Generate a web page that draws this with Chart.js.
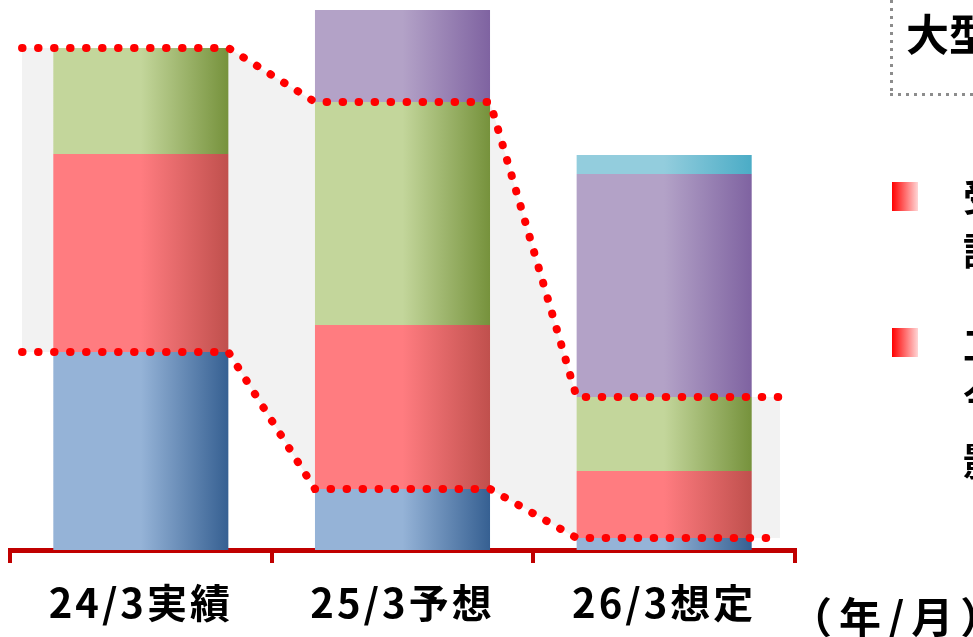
<!DOCTYPE html>
<html>
<head>
<meta charset="utf-8">
<script src="https://cdn.jsdelivr.net/npm/chart.js@4/dist/chart.umd.min.js"></script>
<style>
  body { margin: 0; background: #fff; overflow: hidden; }
  #wrap { position: relative; width: 973px; height: 637px; overflow: hidden; }
  #chart { position: absolute; left: 0; top: 0; }
  .txt { position: absolute; font-family: "Noto Sans CJK JP", sans-serif; font-weight: 700; color: #000; white-space: nowrap; line-height: 1; }
  .bullet { position: absolute; left: 892px; width: 26px; height: 29px;
            background: linear-gradient(to right, #ff0000, #ff8080 60%, #ffd6d6); filter: blur(0.5px); }
</style>
</head>
<body>
<div id="wrap">
  <canvas id="chart" width="973" height="637"></canvas>

  <!-- dotted frame, right side -->
  <div style="position:absolute;left:890px;top:0;width:3px;height:96px;background:repeating-linear-gradient(to bottom,#8c8c8c 0 3px,transparent 3px 8px);"></div>
  <div style="position:absolute;left:890px;top:93px;width:90px;height:3px;background:repeating-linear-gradient(to right,#8c8c8c 0 3px,transparent 3px 8px);"></div>
  <div class="txt" style="left:906px;top:11px;font-size:43px;">大型案件</div>

  <div class="bullet" style="top:182px;"></div>
  <div class="txt" style="left:963px;top:176px;font-size:38px;">受注</div>
  <div class="txt" style="left:963px;top:230px;font-size:38px;">設計</div>

  <div class="bullet" style="top:328px;"></div>
  <div class="txt" style="left:963px;top:324px;font-size:38px;">工程</div>
  <div class="txt" style="left:963px;top:376px;font-size:38px;">今期</div>
  <div class="txt" style="left:963px;top:440px;font-size:38px;">影響</div>

  <div class="txt" style="left:790px;top:594px;font-size:42px;letter-spacing:7px;">（年/月）</div>
</div>

<script>
// data
const categories = ['24/3実績', '25/3予想', '26/3想定'];
const blueValues   = [49.5, 15.25, 3];
const redValues    = [49.5, 41, 16.75];
const greenValues  = [26.5, 55.75, 18.5];
const purpleValues = [0, 23, 55.75];
const cyanValues   = [0, 0, 4.75];
const yMax = 137.5;

// band (gray highlight) goes from top of blue to top of green
const bandLow  = blueValues.slice();
const bandHigh = blueValues.map((v, i) => v + redValues[i] + greenValues[i]);

const BAR_PCT = 0.669;
const HALF = BAR_PCT / 2;

function bandLine(levels) {
    const last = levels.length - 1;
    const pts = [{ x: -0.454, y: levels[0] }];
    levels.forEach((v, i) => {
        pts.push({ x: i - HALF, y: v });
        pts.push({ x: i + HALF, y: v });
    });
    pts.push({ x: last + 0.4425, y: levels[last] });
    return pts;
}

// horizontal gradient per bar: flat light on the left half, darker to the right
function barGradient(light, dark) {
    return function(context) {
        const chart = context.chart;
        if (!chart.chartArea) return light;
        const xs = chart.scales.x;
        const cx = xs.getPixelForValue(context.dataIndex);
        const hw = xs.width / categories.length * HALF;
        const g = chart.ctx.createLinearGradient(cx - hw, 0, cx + hw, 0);
        g.addColorStop(0, light);
        g.addColorStop(0.5, light);
        g.addColorStop(1, dark);
        return g;
    };
}

function barSet(label, values, light, dark) {
    return {
        label: label,
        data: values,
        backgroundColor: barGradient(light, dark),
        borderWidth: 0,
        stack: 'bars',
        grouped: false,
        barPercentage: BAR_PCT,
        categoryPercentage: 1,
        order: 1
    };
}

function dotLine(levels, fill) {
    return {
        type: 'line',
        data: bandLine(levels),
        xAxisID: 'xl',
        yAxisID: 'yl',
        borderColor: '#ff0000',
        borderWidth: 8,
        borderDash: [0.5, 15.5],
        borderCapStyle: 'round',
        pointRadius: 0,
        tension: 0,
        fill: fill,
        backgroundColor: '#f2f2f2',
        order: 0
    };
}

// labels get a bit of letter spacing like the original font
const spacingPlugin = {
    id: 'spacing',
    beforeDraw(chart) { chart.ctx.letterSpacing = '3px'; }
};

new Chart(document.getElementById('chart'), {
    type: 'bar',
    data: {
        labels: categories,
        datasets: [
            barSet('blue', blueValues, '#95b3d7', '#366092'),
            barSet('red', redValues, '#ff7c80', '#c0504d'),
            barSet('green', greenValues, '#c3d69b', '#76923c'),
            barSet('purple', purpleValues, '#b3a2c7', '#7f63a1'),
            barSet('cyan', cyanValues, '#93cddd', '#4bacc6'),
            dotLine(bandHigh, '+1'),
            dotLine(bandLow, false)
        ]
    },
    options: {
        responsive: false,
        animation: false,
        layout: { padding: { left: 10, right: 178, top: 0, bottom: 0 } },
        plugins: {
            legend: { display: false },
            tooltip: { enabled: false },
            filler: { drawTime: 'beforeDatasetsDraw' }
        },
        scales: {
            x: {
                stacked: true,
                offset: true,
                grid: {
                    offset: true,
                    drawOnChartArea: false,
                    color: '#c00000',
                    lineWidth: 4,
                    tickLength: 13
                },
                border: { display: true, color: '#c00000', width: 5 },
                ticks: {
                    color: '#000',
                    padding: 16,
                    font: { family: '"Noto Sans CJK JP"', size: 40, weight: 'bold' }
                },
                afterFit(axis) { axis.height = 87; }
            },
            y: { stacked: true, display: false, min: 0, max: yMax },
            xl: { type: 'linear', display: false, offset: false, grid: { offset: false }, min: -0.5, max: 2.5 },
            yl: { display: false, min: 0, max: yMax }
        }
    },
    plugins: [spacingPlugin]
});
</script>
</body>
</html>
